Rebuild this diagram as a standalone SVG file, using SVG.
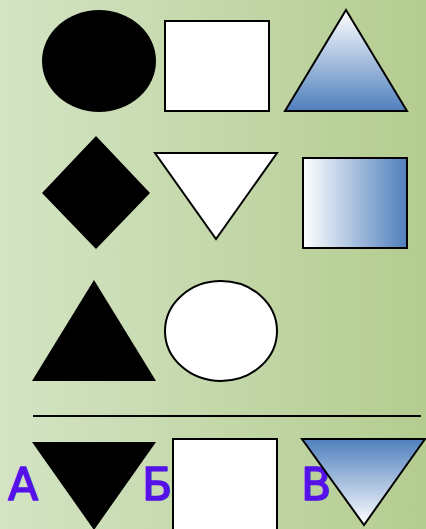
<svg xmlns="http://www.w3.org/2000/svg" width="426" height="529" viewBox="0 0 426 529">
<defs>
<linearGradient id="bg" x1="0" y1="0" x2="1" y2="0">
<stop offset="0" stop-color="#d4e4c4"/>
<stop offset="1" stop-color="#b4cc90"/>
</linearGradient>
<linearGradient id="vDown" x1="0" y1="0" x2="0" y2="1">
<stop offset="0" stop-color="#ffffff"/>
<stop offset="1" stop-color="#4f7fbd"/>
</linearGradient>
<linearGradient id="vUp" x1="0" y1="0" x2="0" y2="1">
<stop offset="0" stop-color="#4f7fbd"/>
<stop offset="1" stop-color="#ffffff"/>
</linearGradient>
<linearGradient id="hRight" x1="0" y1="0" x2="1" y2="0">
<stop offset="0" stop-color="#ffffff"/>
<stop offset="1" stop-color="#4f7fbd"/>
</linearGradient>
</defs>
<style>
.k{fill:#000;stroke:none}
.w{fill:#fff;stroke:#000;stroke-width:2}
.lbl{font-family:"Comic Sans MS","DejaVu Sans",sans-serif;font-size:44px;fill:#5512e8;stroke:#5512e8;stroke-width:1.5;stroke-linejoin:round}
</style>
<rect x="0" y="0" width="426" height="529" fill="url(#bg)"/>
<g id="ellipse-black"><ellipse class="k" cx="99" cy="61" rx="57" ry="51"/></g>
<g id="rect-white"><rect class="w" x="165" y="21" width="104" height="90"/></g>
<g id="tri-blue"><polygon points="346,10 407,111 285,111" fill="url(#vDown)" stroke="#000" stroke-width="2"/></g>
<g id="diamond-black"><polygon class="k" points="96,136 150,193 96,249 42,193"/></g>
<g id="tri-white-down"><polygon class="w" points="155,153 277,153 216,239"/></g>
<g id="rect-grad"><rect x="303" y="158" width="104" height="90" fill="url(#hRight)" stroke="#000" stroke-width="2"/></g>
<g id="tri-black"><polygon class="k" points="94,280 156,381 32,381"/></g>
<g id="ellipse-white"><ellipse class="w" cx="221" cy="331" rx="56" ry="50"/></g>
<g id="divider"><line x1="33" y1="416" x2="421" y2="416" stroke="#000" stroke-width="2"/></g>
<g id="label-a"><text class="lbl" x="8" y="500">А</text></g>
<g id="option-a"><polygon class="k" points="32,442 156,442 94,530"/></g>
<g id="label-b"><text class="lbl" x="142" y="500">Б</text></g>
<g id="option-b"><rect class="w" x="173" y="439" width="104" height="95"/></g>
<g id="label-v"><text class="lbl" x="301" y="500">В</text></g>
<g id="option-v"><polygon points="302,439 425,439 364,525" fill="url(#vUp)" stroke="#000" stroke-width="2"/></g>
</svg>
